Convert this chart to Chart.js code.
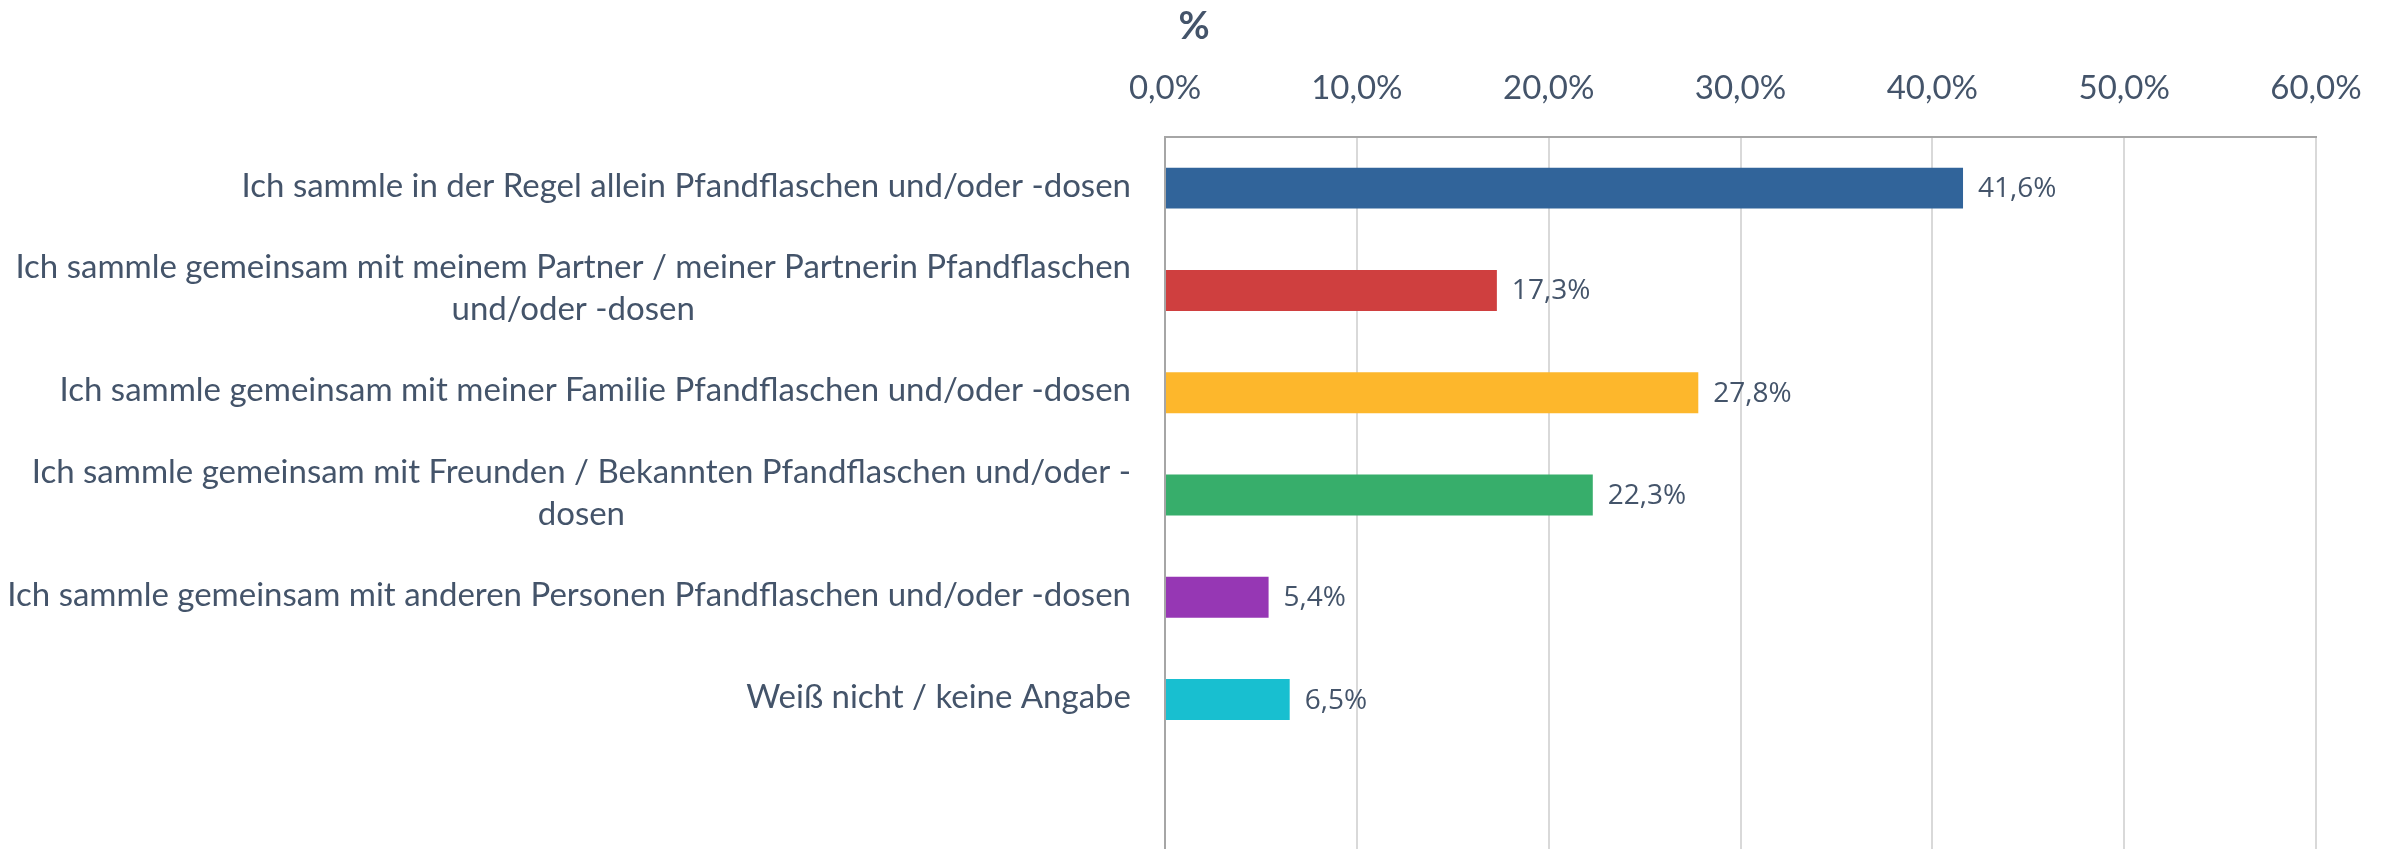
<!DOCTYPE html>
<html>
<head>
<meta charset="utf-8">
<script src="https://cdn.jsdelivr.net/npm/chart.js@4"></script>
<style>
  html, body { margin: 0; padding: 0; background: #fff; overflow: hidden; }
  #wrap { width: 2394px; height: 853px; position: relative; }
</style>
</head>
<body>
<div id="wrap"><canvas id="chart"></canvas></div>
<script>
const categories = [
  ["Ich sammle in der Regel allein Pfandflaschen und/oder -dosen"],
  ["Ich sammle gemeinsam mit meinem Partner / meiner Partnerin Pfandflaschen", "und/oder -dosen"],
  ["Ich sammle gemeinsam mit meiner Familie Pfandflaschen und/oder -dosen"],
  ["Ich sammle gemeinsam mit Freunden / Bekannten Pfandflaschen und/oder -", "dosen"],
  ["Ich sammle gemeinsam mit anderen Personen Pfandflaschen und/oder -dosen"],
  ["Weiß nicht / keine Angabe"],
  [""]
];
const values = [41.6, 17.3, 27.8, 22.3, 5.4, 6.5, null];
const xTickLabels = ["0,0%", "10,0%", "20,0%", "30,0%", "40,0%", "50,0%", "60,0%"];
const axisTitle = "%";

const barColors = ["#31649A", "#CF3F3F", "#FDB72C", "#37AE6B", "#9637B4", "#18BFD0", "#ffffff"];
const textColor = "#44546A";
const fmt = v => v.toFixed(1).replace(".", ",") + "%";

const labelPlugin = {
  id: "labels",
  afterDraw(chart) {
    const ctx = chart.ctx;
    const y = chart.scales.y;
    const x = chart.scales.x;
    ctx.save();
    ctx.fillStyle = textColor;
    ctx.textBaseline = "middle";

    // category labels, right aligned block, lines centred
    ctx.font = "33px Lato";
    ctx.textAlign = "center";
    const right = chart.chartArea.left - 34;
    categories.forEach((lines, i) => {
      const cy = y.getPixelForValue(i);
      const maxW = Math.max(...lines.map(l => ctx.measureText(l).width));
      lines.forEach((l, j) => {
        ctx.fillText(l, right - maxW / 2, cy - 2 + (j - (lines.length - 1) / 2) * 42);
      });
    });

    // value labels
    ctx.font = "28px 'Open Sans'";
    ctx.textAlign = "left";
    values.forEach((v, i) => {
      if (v == null) return;
      ctx.fillText(fmt(v), x.getPixelForValue(v) + 15, y.getPixelForValue(i) + 1);
    });

    // axis title
    ctx.font = "bold 38px Lato";
    ctx.textAlign = "center";
    ctx.fillText(axisTitle, 1194, 27);
    ctx.restore();
  }
};

new Chart(document.getElementById("chart"), {
  type: "bar",
  data: {
    labels: categories.map(c => c.join(" ")),
    datasets: [{
      data: values,
      backgroundColor: barColors,
      barPercentage: 0.4,
      categoryPercentage: 1
    }]
  },
  options: {
    indexAxis: "y",
    responsive: true,
    maintainAspectRatio: false,
    animation: false,
    layout: { padding: { top: 0, right: 78, bottom: 0, left: 0 } },
    plugins: { legend: { display: false }, tooltip: { enabled: false } },
    scales: {
      x: {
        position: "top",
        min: 0,
        max: 60,
        ticks: {
          stepSize: 10,
          padding: 29,
          color: textColor,
          font: { family: "Lato", size: 33 },
          callback: (v, i) => xTickLabels[i]
        },
        grid: { color: "#D9D9D9", lineWidth: 2, drawTicks: false },
        border: { color: "#A6A6A6", width: 2 },
        afterFit: s => { s.height = 137; }
      },
      y: {
        ticks: { display: false },
        grid: { display: false, drawTicks: false },
        border: { color: "#A6A6A6", width: 2 },
        afterFit: s => { s.width = 1165; }
      }
    }
  },
  plugins: [labelPlugin]
});
</script>
</body>
</html>
